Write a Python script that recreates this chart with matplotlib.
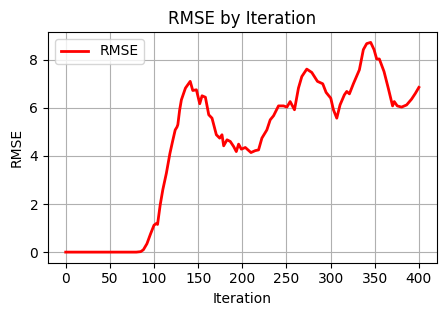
import matplotlib
matplotlib.use("Agg")
import matplotlib.pyplot as plt

# iteration / rmse
iteration = [0, 20, 40, 60, 80, 85, 88, 92, 96, 100, 103, 104, 107, 110, 114, 118, 121, 124, 126,
             127, 129, 131, 135.6, 141, 143.9, 148, 151.8, 154.4, 158.2, 162, 165.7, 170.6, 174.4,
             177, 178.9, 182.7, 186.4, 190.2, 193.2, 195.8, 198.9, 203.4, 209.8, 214.7, 218.4,
             222.2, 227.8, 231.6, 235.4, 241, 246.7, 250.5, 254.2, 259.1, 263.6, 267.4, 273,
             278.7, 285.1, 291.1, 294.9, 300.2, 303.2, 307, 310.7, 315.6, 318.3, 321.3, 325.8,
             332.6, 337.1, 340.9, 345.4, 349.2, 352.2, 355.2, 360.5, 365.3, 370.2, 372.1, 375.5,
             380.4, 386.1, 391.7, 396, 400]
rmse = [0, 0, 0, 0, 0, 0.02, 0.1, 0.35, 0.75, 1.12, 1.2, 1.15, 1.96, 2.6, 3.28, 4.1, 4.6, 5.08, 5.2,
        5.3, 5.9, 6.33, 6.82, 7.1, 6.72, 6.75, 6.17, 6.5, 6.44, 5.71, 5.57, 4.88, 4.74,
        4.88, 4.42, 4.67, 4.6, 4.39, 4.18, 4.49, 4.28, 4.35, 4.14, 4.22, 4.25,
        4.74, 5.08, 5.5, 5.67, 6.08, 6.08, 6.03, 6.26, 5.92, 6.82, 7.3, 7.61,
        7.47, 7.1, 7.0, 6.64, 6.4, 5.92, 5.57, 6.12, 6.54, 6.68, 6.58, 7.0,
        7.58, 8.42, 8.67, 8.72, 8.42, 8.03, 8.03, 7.51, 6.82, 6.08, 6.26, 6.08,
        6.03, 6.12, 6.36, 6.6, 6.85]

fig = plt.figure(figsize=(4.45, 3.16), dpi=100)
fig.subplots_adjust(left=0.108, right=0.981, top=0.899, bottom=0.169)
plt.plot(iteration, rmse, color="red", linewidth=2, label="RMSE")
plt.title("RMSE by Iteration")
plt.xlabel("Iteration")
plt.ylabel("RMSE")
plt.xticks(range(0, 401, 50))
plt.grid(True)
plt.legend(loc="upper left")
plt.savefig("out.png", dpi=100)
